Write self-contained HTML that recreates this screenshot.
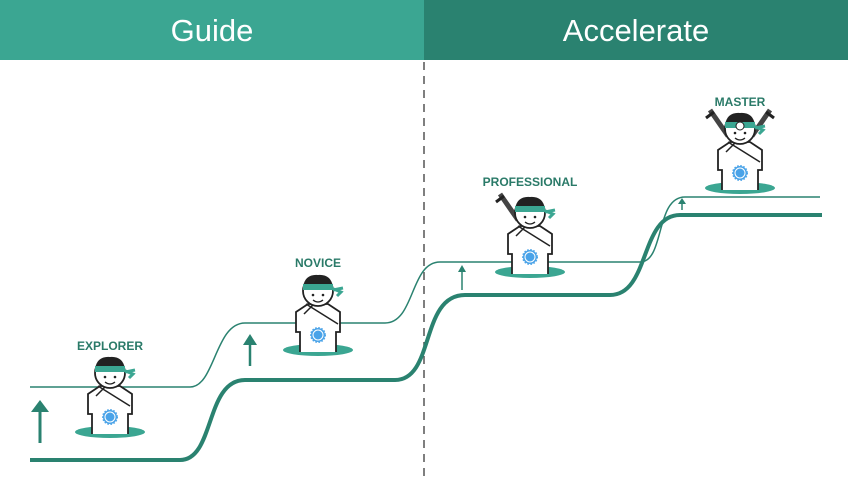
<!DOCTYPE html>
<html><head><style>body{margin:0;background:#fff}svg{display:block}text{font-family:"Liberation Sans",sans-serif}</style></head><body>
<svg width="848" height="477" viewBox="0 0 848 477" xmlns="http://www.w3.org/2000/svg">
<rect x="0" y="0" width="424" height="60" fill="#3ba692"/>
<rect x="424" y="0" width="424" height="60" fill="#2a8270"/>
<text x="212" y="41" fill="#fff" font-size="31" text-anchor="middle">Guide</text>
<text x="636" y="41" fill="#fff" font-size="31" text-anchor="middle">Accelerate</text>
<line x1="424" y1="62" x2="424" y2="477" stroke="#555" stroke-width="1.5" stroke-dasharray="8,6"/>
<path d="M30 387 H190 C215 387 215 323 245 323 H385 C415 323 410 262 440 262 H640 C665 262 655 197 685 197 H820" fill="none" stroke="#2a8270" stroke-width="1.5"/>
<path d="M30 460 H180 C215 460 205 380 245 380 H395 C435 380 420 295 465 295 H610 C650 295 640 215 680 215 H822" fill="none" stroke="#2a8270" stroke-width="4"/>
<g fill="#2a8270" stroke="#2a8270">
<line x1="40" y1="443" x2="40" y2="408" stroke-width="3"/><path d="M31 412 L40 400 L49 412Z" stroke="none"/>
<line x1="250" y1="366" x2="250" y2="342" stroke-width="2.5"/><path d="M243 345 L250 334 L257 345Z" stroke="none"/>
<line x1="462" y1="290" x2="462" y2="270" stroke-width="1.5"/><path d="M458 272 L462 265 L466 272Z" stroke="none"/>
<line x1="682" y1="210" x2="682" y2="203" stroke-width="1.5"/><path d="M678 204 L682 198 L686 204Z" stroke="none"/>
</g>
<defs>
<g id="ch">
<ellipse cx="0" cy="0" rx="35" ry="6" fill="#3ba692"/>
<path d="M-18 2 V-18 H-22 V-38 L-10 -46 H10 L22 -38 V-18 H18 V2" fill="#fff" stroke="#222" stroke-width="1.8"/>
<path d="M-12 -46 L20 -26 M-4 -46 L-14 -36" fill="none" stroke="#222" stroke-width="1.5"/>
<circle cx="0" cy="-15" r="7" fill="#4aa3e8" stroke="#4aa3e8" stroke-dasharray="1.5,1.5" stroke-width="2"/>
<circle cx="0" cy="-15" r="5" fill="#4aa3e8" stroke="#fff" stroke-width="1"/>
<circle cx="0" cy="-59" r="15" fill="#fff" stroke="#222" stroke-width="1.8"/>
<path d="M-15 -63 Q-13 -76 0 -75 Q13 -76 15 -63" fill="#222"/>
<path d="M-15 -66 H15 V-60 H-15Z" fill="#3ba692"/>
<path d="M13 -62 L23 -58 L19 -54 M15 -60 L25 -62" stroke="#3ba692" stroke-width="3" fill="none"/>
<circle cx="-5" cy="-55" r="1.3" fill="#222"/><circle cx="5" cy="-55" r="1.3" fill="#222"/>
<path d="M-5 -50 Q0 -46 5 -50" stroke="#222" fill="none" stroke-width="1.3"/>
</g>
<g id="sw1"><path d="M-30 -78 L-12 -52" stroke="#444" stroke-width="5"/><path d="M-34 -70 L-26 -76" stroke="#222" stroke-width="3"/></g>
<g id="sw2"><path d="M30 -78 L12 -52" stroke="#444" stroke-width="5"/><path d="M34 -70 L26 -76" stroke="#222" stroke-width="3"/></g>
</defs>
<use href="#ch" x="110" y="432"/>
<use href="#ch" x="318" y="350"/>
<use href="#sw1" x="530" y="272"/><use href="#ch" x="530" y="272"/>
<use href="#sw1" x="740" y="188"/><use href="#sw2" x="740" y="188"/><use href="#ch" x="740" y="188"/>
<circle cx="740" cy="126" r="4" fill="#fff" stroke="#222" stroke-width="1"/>
<g fill="#2a7a68" font-size="12" font-weight="bold" text-anchor="middle">
<text x="110" y="350">EXPLORER</text>
<text x="318" y="267">NOVICE</text>
<text x="530" y="186">PROFESSIONAL</text>
<text x="740" y="106">MASTER</text>
</g>
</svg>
</body></html>
